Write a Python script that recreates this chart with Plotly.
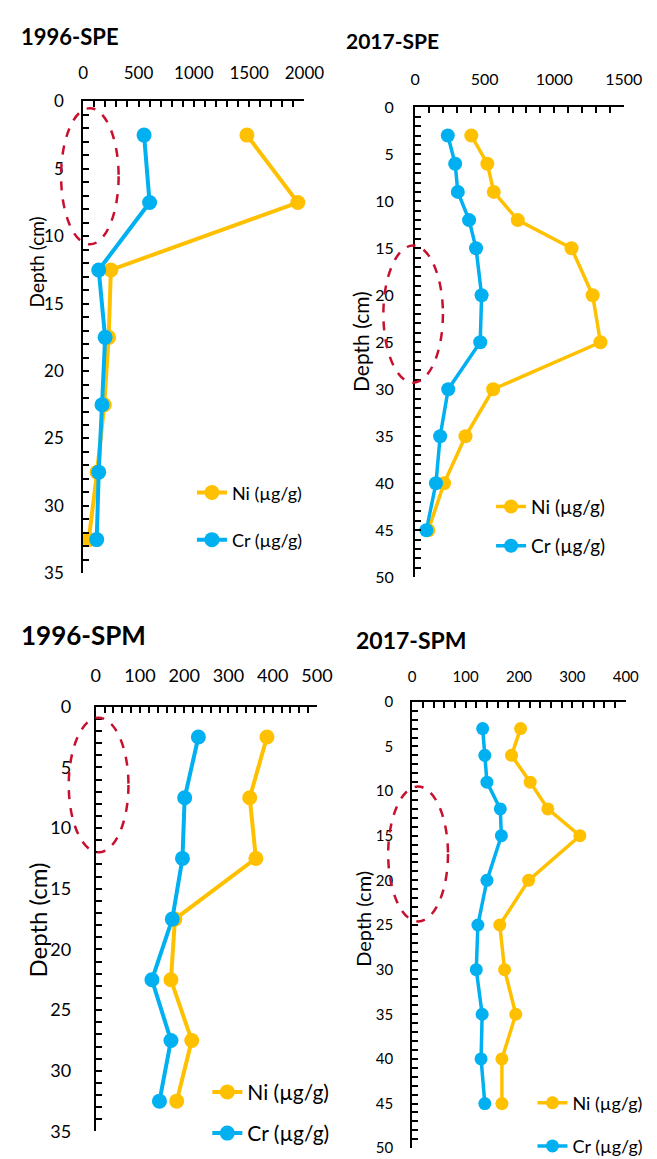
import plotly.graph_objects as go

# ---------------- data ----------------
depth_1996 = [2.5, 7.5, 12.5, 17.5, 22.5, 27.5, 32.5]
depth_2017 = [3, 6, 9, 12, 15, 20, 25, 30, 35, 40, 45]

ni_1996_spe = [1480, 1940, 250, 230, 190, 125, 50]
cr_1996_spe = [550, 600, 140, 198, 170, 140, 122]

ni_2017_spe = [404, 519, 565, 738, 1124, 1276, 1332, 561, 362, 208, 95]
cr_2017_spe = [235, 288, 307, 388, 438, 478, 468, 238, 180, 150, 81]

ni_1996_spm = [387, 348, 362, 179, 170, 217, 183]
cr_1996_spm = [232, 201, 196, 173, 127, 170, 144]

ni_2017_spm = [203, 186, 221, 254, 314, 218, 164, 173, 194, 168, 168]
cr_2017_spm = [132, 136, 140, 165, 167, 140, 123, 120, 131, 129, 136]

titles = ["1996-SPE", "2017-SPE", "1996-SPM", "2017-SPM"]
ni_label = "Ni (µg/g)"
cr_label = "Cr (µg/g)"
y_title = "Depth (cm)"

# --------------- layout geometry (pixels) ---------------
W, H = 657, 1159
FONT = "Lato, 'Open Sans', sans-serif"
NI_COLOR = "#FFC000"
CR_COLOR = "#00B0F0"

panels = [
    dict(depth=depth_1996, ni=ni_1996_spe, cr=cr_1996_spe,
         xpx=(73, 303), ypx=(83, 564), xr=(0, 2000), yr=(0, 35),
         xdt=500, xminor=100, ydt=5, yminor=1, tickfont=17, msize=15, lw=4,
         standoff=(14, 14),
         title_xy=(7, 17), title_size=22,
         ytitle_xy=(24, 247), ytitle_size=19,
         leg_text_x=232, leg_y=(482, 530), leg_size=18,
         ell=(-200, 320, 0.5, 10.6)),
    dict(depth=depth_2017, ni=ni_2017_spe, cr=cr_2017_spe,
         xpx=(418, 635), ypx=(89, 568), xr=(0, 1500), yr=(0, 50),
         xdt=500, xminor=100, ydt=5, yminor=1, tickfont=16, msize=14, lw=3.5,
         standoff=(14, 16),
         title_xy=(345, 21), title_size=21,
         ytitle_xy=(362, 328), ytitle_size=21,
         leg_text_x=543, leg_y=(496, 536), leg_size=19,
         ell=(-228, 200, 14.7, 29.3)),
    dict(depth=depth_1996, ni=ni_1996_spm, cr=cr_1996_spm,
         xpx=(86, 316), ypx=(700, 1133), xr=(0, 500), yr=(0, 35),
         xdt=100, xminor=20, ydt=5, yminor=1, tickfont=18, msize=15, lw=4,
         standoff=(16, 19),
         title_xy=(7, 627), title_size=26,
         ytitle_xy=(26, 918), ytitle_size=24,
         leg_text_x=248, leg_y=(1093, 1135), leg_size=21,
         ell=(-61, 74, 0.9, 12.0)),
    dict(depth=depth_2017, ni=ni_2017_spm, cr=cr_2017_spm,
         xpx=(415, 637), ypx=(695, 1150), xr=(0, 400), yr=(0, 50),
         xdt=100, xminor=20, ydt=5, yminor=1, tickfont=15, msize=13, lw=3.5,
         standoff=(12, 14),
         title_xy=(356, 632), title_size=23,
         ytitle_xy=(363, 916), ytitle_size=20,
         leg_text_x=586, leg_y=(1104, 1148), leg_size=18,
         ell=(-45, 67, 9.5, 24.6)),
]


def px_to_paper_x(px):
    return px / W


def px_to_paper_y(py):
    return 1 - py / H


def data_to_paper(p, xv, yv):
    x0, x1 = p["xpx"]
    y0, y1 = p["ypx"]
    xp = x0 + (xv - p["xr"][0]) / (p["xr"][1] - p["xr"][0]) * (x1 - x0)
    yp = y0 + (yv - p["yr"][0]) / (p["yr"][1] - p["yr"][0]) * (y1 - y0)
    return px_to_paper_x(xp), px_to_paper_y(yp)


def tick_arrays(vmax, major, minor):
    """Tick at every minor step; label only the major steps."""
    n = int(round(vmax / minor))
    vals = [k * minor for k in range(n + 1)]
    text = [f"{v:g}" if abs(v / major - round(v / major)) < 1e-9 else "" for v in vals]
    return vals, text


fig = go.Figure()
layout = dict(
    width=W, height=H,
    margin=dict(l=0, r=0, t=0, b=0),
    paper_bgcolor="white", plot_bgcolor="white",
    font=dict(family=FONT, color="black"),
    annotations=[], shapes=[],
)

leg_idx = 0
for i, p in enumerate(panels, start=1):
    xa = "x" if i == 1 else f"x{i}"
    ya = "y" if i == 1 else f"y{i}"
    leg_names = []
    for _ in range(2):
        leg_idx += 1
        leg_names.append("legend" if leg_idx == 1 else f"legend{leg_idx}")

    for vals, name, color, lg in [(p["ni"], ni_label, NI_COLOR, leg_names[0]),
                                  (p["cr"], cr_label, CR_COLOR, leg_names[1])]:
        fig.add_trace(go.Scatter(
            x=vals, y=p["depth"], mode="lines+markers", name=name,
            line=dict(color=color, width=p["lw"]),
            marker=dict(color=color, size=p["msize"]),
            xaxis=xa, yaxis=ya, legend=lg, cliponaxis=False,
        ))

    axis_common = dict(
        showline=True, linecolor="black", linewidth=2,
        showgrid=False, zeroline=False,
        ticks="inside", ticklen=6, tickwidth=2, tickcolor="black",
        tickfont=dict(size=p["tickfont"], family=FONT, color="black"),
    )
    xkey = "xaxis" if i == 1 else f"xaxis{i}"
    ykey = "yaxis" if i == 1 else f"yaxis{i}"
    xdom = [px_to_paper_x(p["xpx"][0]), px_to_paper_x(p["xpx"][1])]
    ydom = [px_to_paper_y(p["ypx"][1]), px_to_paper_y(p["ypx"][0])]
    xtv, xtt = tick_arrays(p["xr"][1], p["xdt"], p["xminor"])
    ytv, ytt = tick_arrays(p["yr"][1], p["ydt"], p["yminor"])
    layout[xkey] = dict(
        axis_common, domain=xdom,
        range=list(p["xr"]), side="top", anchor=ya,
        tickmode="array", tickvals=xtv, ticktext=xtt,
        ticklabelstandoff=p["standoff"][0],
    )
    layout[ykey] = dict(
        axis_common, domain=ydom,
        range=[p["yr"][1], p["yr"][0]], anchor=xa,
        tickmode="array", tickvals=ytv, ticktext=ytt,
        ticklabelstandoff=p["standoff"][1],
    )

    # panel title
    tx, ty = p["title_xy"]
    layout["annotations"].append(dict(
        text=f"<b>{titles[i-1]}</b>", xref="paper", yref="paper",
        x=px_to_paper_x(tx), y=px_to_paper_y(ty),
        xanchor="left", yanchor="middle", showarrow=False, borderpad=0,
        font=dict(size=p["title_size"], family=FONT, color="black"),
    ))
    # y axis title
    ax_, ay_ = p["ytitle_xy"]
    layout["annotations"].append(dict(
        text=y_title, xref="paper", yref="paper",
        x=px_to_paper_x(ax_), y=px_to_paper_y(ay_),
        xanchor="center", yanchor="middle", textangle=-90, showarrow=False,
        font=dict(size=p["ytitle_size"], family=FONT, color="black"),
    ))
    # legends
    for lg, ly in zip(leg_names, p["leg_y"]):
        layout[lg] = dict(
            x=px_to_paper_x(p["leg_text_x"] - 46), y=px_to_paper_y(ly),
            xanchor="left", yanchor="middle", xref="paper", yref="paper",
            bgcolor="rgba(0,0,0,0)", borderwidth=0,
            font=dict(size=p["leg_size"], family=FONT, color="black"),
        )
    # red dashed ellipse
    ex0, ex1, ey0, ey1 = p["ell"]
    px0, py0 = data_to_paper(p, ex0, ey1)
    px1, py1 = data_to_paper(p, ex1, ey0)
    layout["shapes"].append(dict(
        type="circle", xref="paper", yref="paper",
        x0=px0, x1=px1, y0=py0, y1=py1,
        line=dict(color="#C8102E", width=2.5, dash="dash"),
    ))

layout["showlegend"] = True
fig.update_layout(**layout)
fig.write_html("out.html")
